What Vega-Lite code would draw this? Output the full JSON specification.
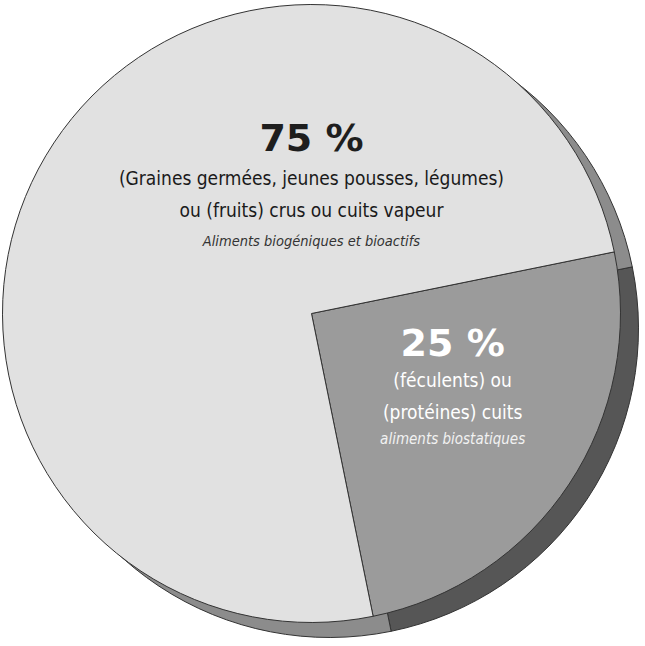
{
  "$schema": "https://vega.github.io/schema/vega-lite/v6.json",
  "width": 645,
  "height": 646,
  "autosize": {"type": "fit", "contains": "padding"},
  "padding": {"left": 0, "top": 0, "right": 15, "bottom": 16},
  "background": "white",
  "view": {"stroke": null},
  "data": {
    "values": [
      {"part": "biostatique", "value": 25, "order": 1, "pct": "25 %", "body": ["(féculents) ou", "(protéines) cuits"], "note": "aliments biostatiques"},
      {"part": "biogenique", "value": 75, "order": 2, "pct": "75 %", "body": ["(Graines germées, jeunes pousses, légumes)", "ou (fruits) crus ou cuits vapeur"], "note": "Aliments biogéniques et bioactifs"}
    ]
  },
  "encoding": {
    "theta": {"field": "value", "type": "quantitative", "stack": true, "scale": {"range": [1.37, 7.6532]}},
    "order": {"field": "order", "type": "quantitative"}
  },
  "layer": [
    {
      "mark": {"type": "arc", "radius": 309, "xOffset": 18, "yOffset": 15, "stroke": "#333333", "strokeWidth": 1},
      "encoding": {
        "fill": {"condition": {"test": "datum.part === 'biostatique'", "value": "#565656"}, "value": "#8c8c8c"}
      }
    },
    {
      "mark": {"type": "arc", "radius": 309, "stroke": "#333333", "strokeWidth": 1},
      "encoding": {
        "fill": {"condition": {"test": "datum.part === 'biostatique'", "value": "#9b9b9b"}, "value": "#e1e1e1"}
      }
    },
    {
      "mark": {"type": "text", "radius": 129, "thetaOffset": 0.986, "dy": -34, "align": "center", "baseline": "alphabetic", "font": "DejaVu Sans", "fontWeight": "bold", "fontSize": 38, "fill": "#1e1e1e"},
      "encoding": {"text": {"condition": {"test": "datum.part === 'biogenique'", "field": "pct"}, "value": ""}}
    },
    {
      "mark": {"type": "text", "radius": 129, "thetaOffset": 0.986, "dy": 0, "align": "center", "baseline": "alphabetic", "font": "DejaVu Sans Condensed, Roboto Condensed, Liberation Sans Narrow, Roboto, sans-serif", "fontSize": 19, "lineHeight": 32, "fill": "#1a1a1a"},
      "encoding": {"text": {"condition": {"test": "datum.part === 'biogenique'", "field": "body"}, "value": ""}}
    },
    {
      "mark": {"type": "text", "radius": 129, "thetaOffset": 0.986, "dy": 61, "align": "center", "baseline": "alphabetic", "font": "DejaVu Sans Condensed, Roboto Condensed, Liberation Sans Narrow, Roboto, sans-serif", "fontStyle": "italic", "fontSize": 14.5, "fill": "#333333"},
      "encoding": {"text": {"condition": {"test": "datum.part === 'biogenique'", "field": "note"}, "value": ""}}
    },
    {
      "mark": {"type": "text", "radius": 159, "thetaOffset": -0.106, "dy": -31, "align": "center", "baseline": "alphabetic", "font": "DejaVu Sans", "fontWeight": "bold", "fontSize": 38, "fill": "#ffffff"},
      "encoding": {"text": {"condition": {"test": "datum.part === 'biostatique'", "field": "pct"}, "value": ""}}
    },
    {
      "mark": {"type": "text", "radius": 159, "thetaOffset": -0.106, "dy": 0, "align": "center", "baseline": "alphabetic", "font": "DejaVu Sans Condensed, Roboto Condensed, Liberation Sans Narrow, Roboto, sans-serif", "fontSize": 19, "lineHeight": 32, "fill": "#ffffff"},
      "encoding": {"text": {"condition": {"test": "datum.part === 'biostatique'", "field": "body"}, "value": ""}}
    },
    {
      "mark": {"type": "text", "radius": 159, "thetaOffset": -0.106, "dy": 57, "align": "center", "baseline": "alphabetic", "font": "DejaVu Sans Condensed, Roboto Condensed, Liberation Sans Narrow, Roboto, sans-serif", "fontStyle": "italic", "fontSize": 15, "fill": "#f2f2f2"},
      "encoding": {"text": {"condition": {"test": "datum.part === 'biostatique'", "field": "note"}, "value": ""}}
    }
  ]
}
